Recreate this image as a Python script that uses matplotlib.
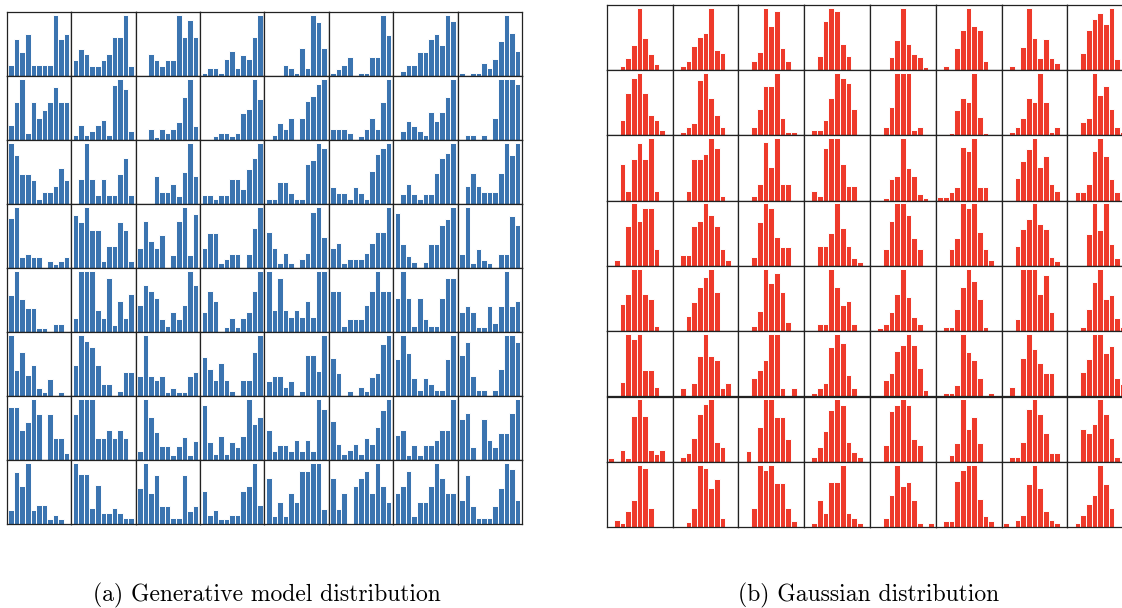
import numpy as np
import matplotlib
matplotlib.use("Agg")
import matplotlib.pyplot as plt

# ---- data: bar heights (relative, max = 100) of 11 bins per small histogram ----
bins = list(range(11))

gen_row1 = [[19,61,39,69,19,19,19,19,100,61,69],[27,45,36,17,17,27,36,64,64,100,17],[0,0,36,27,17,27,27,100,64,92,64],[6,13,13,6,28,42,13,35,28,64,100],
            [0,0,0,19,13,6,46,13,100,88,46],[6,12,18,31,0,6,6,31,31,100,68],[0,9,19,19,39,39,61,69,51,100,91],[6,0,6,6,21,13,28,57,100,71,42]]
gen_row2 = [[25,62,100,12,62,37,50,62,87,62,62],[8,25,8,16,25,33,8,91,100,84,16],[0,0,18,5,18,12,18,30,71,100,23],[0,0,7,12,12,7,12,44,51,100,68],
            [0,9,28,18,37,0,37,64,73,92,100],[19,19,19,12,0,7,19,37,19,63,100],[0,15,31,23,15,8,46,31,46,70,100],[0,9,9,0,9,0,37,100,100,100,92]]
gen_row3 = [[100,80,50,50,39,9,20,20,30,60,39],[0,42,100,42,16,42,16,16,50,75,16],[0,0,0,46,20,20,33,14,53,100,46],[16,16,8,16,16,42,42,25,58,75,100],
            [9,9,37,37,18,9,9,65,73,100,92],[28,18,18,9,28,18,9,55,82,92,100],[0,17,33,17,8,17,17,51,76,84,100],[0,30,51,30,20,20,20,51,100,81,100]]
gen_row4 = [[82,100,19,24,19,19,0,12,7,12,19],[87,75,100,62,62,12,37,37,75,62,12],[33,77,45,33,55,0,22,77,100,22,88],[33,58,58,8,16,24,24,0,24,66,100],
            [59,33,8,25,8,0,16,25,92,100,51],[33,42,8,16,16,16,25,42,59,59,100],[91,40,20,10,0,10,40,40,70,81,100],[23,100,8,31,14,8,0,23,23,85,70]]
gen_row5 = [[61,100,54,39,39,7,7,0,13,13,0],[24,100,100,100,37,24,88,12,51,24,63],[45,78,67,56,22,11,33,22,45,100,78],[33,67,51,0,8,24,8,24,33,67,100],
            [100,37,88,37,25,37,25,51,25,100,100],[67,67,11,22,22,22,45,67,100,67,67],[56,100,56,11,56,22,11,11,56,89,89],[33,43,33,8,8,43,16,43,100,43,51]]
gen_row6 = [[100,43,72,35,51,14,7,29,0,7,0],[51,100,91,81,51,20,20,0,9,40,40],[33,100,33,27,33,7,13,7,7,33,40],[64,45,27,55,27,9,0,27,27,72,100],
            [25,33,33,16,25,0,8,67,67,42,100],[62,38,0,8,0,15,8,31,38,85,100],[61,100,70,30,10,30,20,10,10,61,100],[67,89,33,11,11,0,11,45,100,100,89]]
gen_row7 = [[87,87,50,62,100,75,0,75,37,37,12],[75,100,100,100,37,37,50,37,50,37,0],[15,100,70,46,23,23,8,23,38,8,31],[90,30,10,40,10,30,21,40,100,60,70],
            [50,16,25,25,16,33,16,33,16,100,84],[64,27,10,17,27,10,37,27,55,82,100],[42,50,8,25,8,25,25,33,50,50,100],[67,78,22,0,67,33,22,45,45,78,100]]
gen_row8 = [[23,85,62,100,23,31,31,8,15,8,0],[100,82,82,27,64,18,18,27,18,10,10],[60,100,51,81,30,30,10,10,81,21,30],[54,15,23,8,8,15,15,54,62,100,32],
            [75,13,37,13,51,37,87,87,100,100,25],[75,25,51,0,63,75,87,51,100,63,37],[51,63,87,13,37,37,63,100,75,51,51],[40,81,30,10,10,10,30,60,100,90,40]]

gauss_row1 = [[0,0,6,20,40,100,51,25,9,0,0],[0,6,14,39,53,60,100,32,27,0,0],[0,0,14,29,100,71,94,35,14,0,0],[0,0,22,79,100,94,42,22,0,0,0],
              [0,0,0,21,48,100,42,26,21,5,0],[0,7,0,35,64,100,71,64,14,0,0],[0,7,0,37,100,51,19,50,19,11,0],[0,0,27,64,82,92,73,100,17,0,0]]
gauss_row2 = [[0,0,25,67,92,100,67,32,25,8,0],[0,6,13,20,88,100,60,32,13,0,0],[0,0,13,42,79,79,100,28,6,6,0],[0,8,8,25,59,100,92,84,42,0,0],
              [0,0,14,46,100,100,100,8,14,0,0],[0,0,4,41,59,54,100,30,4,0,0],[0,6,13,27,60,54,100,54,6,13,0],[0,0,21,28,100,64,79,42,13,6,0]]
gauss_row3 = [[0,0,58,15,67,92,67,100,15,0,0],[0,0,15,67,67,75,100,84,7,0,0],[0,0,7,26,93,53,100,26,26,0,0],[0,15,7,84,100,100,58,24,24,0,0],
              [0,0,4,34,40,100,52,40,11,4,0],[5,5,13,21,86,79,100,21,21,0,0],[0,0,36,63,82,100,54,72,26,16,0],[0,13,13,27,79,100,71,34,13,0,0]]
gauss_row4 = [[0,9,0,64,100,72,92,92,27,0,0],[0,17,17,64,72,100,82,64,27,9,0],[0,0,15,70,100,93,46,31,31,0,0],[0,0,32,32,53,100,60,32,13,6,0],
              [0,0,27,72,100,100,82,45,27,0,0],[0,0,27,45,100,92,100,54,27,9,0],[0,0,32,59,75,100,67,59,15,8,0],[0,0,0,51,100,57,100,35,13,0,0]]
gauss_row5 = [[0,0,43,59,100,100,59,51,8,0,0],[0,0,24,47,70,86,100,62,0,0,0],[0,0,8,32,100,77,93,62,15,0,0],[0,0,12,12,100,71,42,48,12,0,0],
              [0,5,12,30,59,100,54,23,12,0,0],[0,6,6,35,71,100,80,51,6,0,0],[0,0,20,100,100,100,59,90,30,0,0],[0,0,6,35,79,100,51,58,21,6,0]]
gauss_row6 = [[0,0,24,100,92,100,42,42,16,0,0],[0,14,0,22,65,100,65,58,14,22,0],[0,0,29,42,58,100,100,14,0,14,0],[0,6,14,22,79,100,86,35,14,0,0],
              [0,0,27,37,73,82,100,82,45,10,0],[0,5,5,18,100,72,58,30,0,5,0],[0,15,0,61,100,76,53,38,38,0,0],[0,0,39,60,100,100,70,81,30,20,0]]
gauss_row7 = [[6,0,19,6,74,100,74,19,12,19,0],[0,7,14,38,76,92,100,31,23,0,0],[0,17,0,55,100,100,72,72,37,0,0],[0,7,24,50,83,100,91,32,16,7,0],
              [0,0,27,82,91,100,91,37,27,0,0],[0,0,11,30,100,53,71,30,0,0,0],[0,8,8,31,85,100,76,46,14,14,0],[0,0,53,46,61,100,76,38,8,0,0]]
gauss_row8 = [[0,12,7,25,44,100,95,31,0,0,0],[0,0,8,31,100,94,62,77,15,0,0],[0,0,30,100,91,100,70,70,30,10,0],[0,7,43,22,72,72,100,22,14,7,0],
              [0,0,14,51,100,65,72,43,7,0,7],[0,10,10,73,92,100,100,45,18,10,0],[7,0,11,19,69,100,63,25,12,7,0],[0,7,19,37,51,100,69,31,0,0,0]]

gen_rows = [gen_row1, gen_row2, gen_row3, gen_row4, gen_row5, gen_row6, gen_row7, gen_row8]
gauss_rows = [gauss_row1, gauss_row2, gauss_row3, gauss_row4, gauss_row5, gauss_row6, gauss_row7, gauss_row8]

captions = ["(a) Generative model distribution", "(b) Gaussian distribution"]

# ---- layout ----
W, H = 1122, 608
fig = plt.figure(figsize=(W / 100, H / 100), dpi=100)


def draw_grid(rows, x0, y0, cw, ch, color):
    for r, row in enumerate(rows):
        for c, vals in enumerate(row):
            left = (x0 + c * cw) / W
            bottom = 1 - (y0 + (r + 1) * ch) / H
            ax = fig.add_axes([left, bottom, cw / W, ch / H])
            ax.bar(bins, vals, width=1.0, color=color, edgecolor="white",
                   linewidth=0.7)
            ax.set_xlim(-0.8, 10.8)
            ax.set_ylim(0, max(vals) * 1.045)
            ax.set_xticks([])
            ax.set_yticks([])
            for s in ax.spines.values():
                s.set_linewidth(0.9)
                s.set_color("#222222")


draw_grid(gen_rows, 6.7, 12.3, 64.4, 64.0, "#3b74b0")
draw_grid(gauss_rows, 606.7, 4.7, 65.8, 65.3, "#ee3a2b")

fig.text(267 / W, 1 - 601 / H, captions[0], ha="center", va="baseline",
         fontsize=17, family="cmr10")
fig.text(869 / W, 1 - 601 / H, captions[1], ha="center", va="baseline",
         fontsize=17, family="cmr10")

fig.savefig("out.png", dpi=100)
